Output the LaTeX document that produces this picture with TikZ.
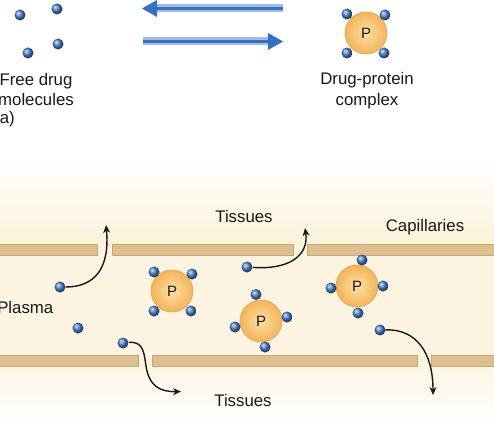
\documentclass[tikz,border=0pt]{standalone}
\usepackage{fontspec}
\setmainfont{Liberation Sans}
\usetikzlibrary{arrows.meta,shadings}
\definecolor{cream}{RGB}{253,244,226}
\definecolor{creamtop}{RGB}{250,242,216}
\definecolor{memfill}{RGB}{222,191,142}
\definecolor{memedge}{RGB}{200,167,118}
\definecolor{drugblue}{RGB}{70,130,215}
\definecolor{protin}{RGB}{253,224,165}
\definecolor{protout}{RGB}{244,180,88}
\definecolor{protedge}{RGB}{230,164,72}
\definecolor{arrlight}{RGB}{160,190,228}
\definecolor{arrdark}{RGB}{52,112,195}
\definecolor{ink}{RGB}{25,25,25}
\tikzset{
  drug/.style={circle, minimum size=11pt, inner sep=0pt, shading=ball, ball color=drugblue},
  protein/.style={circle, minimum size=42pt, inner sep=0pt, draw=protedge, line width=0.6pt,
    inner color=protin, outer color=protout, text=ink, font=\fontsize{15}{15}\selectfont},
  membrane/.style={fill=memfill, draw=memedge, line width=0.6pt},
  lbl/.style={inner sep=0pt, text=ink, font=\fontsize{16.8}{20}\selectfont},
  flow/.style={draw=ink, line width=1.4pt, -{Stealth[length=8pt,width=7pt]}},
  shaftout/.style={draw=arrlight, line width=8pt},
  shaftin/.style={draw=arrdark, line width=3.5pt},
  headfill/.style={fill=arrdark}
}
\begin{document}
\begin{tikzpicture}[x=1pt,y=-1pt]
\useasboundingbox (0,0) rectangle (494,422);
\fill[white] (0,0) rectangle (494,422);
% backgrounds
\shade[top color=white,bottom color=creamtop] (0,160) rectangle (494,246);
\fill[cream] (0,246) rectangle (494,360);
\shade[top color=cream,bottom color=white] (0,360) rectangle (494,422);
% membranes
\draw[membrane] (-2,244.5) rectangle (97,255.5);
\draw[membrane] (112,244.5) rectangle (293,255.5);
\draw[membrane] (307.5,244.5) rectangle (496,255.5);
\draw[membrane] (-2,355) rectangle (138,366);
\draw[membrane] (152.5,355) rectangle (417,366);
\draw[membrane] (431,355) rectangle (496,366);

% ---------- part (a) ----------
\node[drug] (f1) at (20,15) {};
\node[drug] (f2) at (57,9) {};
\node[drug] (f3) at (58,44) {};
\node[drug] (f4) at (28,53) {};

% equilibrium arrows
\coordinate (la) at (283,8.5);
\coordinate (lb) at (157,8.5);
\coordinate (lt) at (142,8.5);
\draw[shaftout] (la) -- (lb);
\draw[shaftin] (la) -- (lb);
\fill[headfill] (lt) -- ([yshift=-8.5]lb) -- ([yshift=8.5]lb) -- cycle;
\coordinate (ra) at (143,41.5);
\coordinate (rb) at (268,41.5);
\coordinate (rt) at (283,41.5);
\draw[shaftout] (ra) -- (rb);
\draw[shaftin] (ra) -- (rb);
\fill[headfill] (rt) -- ([yshift=-8.5]rb) -- ([yshift=8.5]rb) -- cycle;

% complex (a)
\node[protein] (pa) at (366,33) {P};
\node[drug] (pa1) at (347,14) {};
\node[drug] (pa2) at (385,15) {};
\node[drug] (pa3) at (347,53) {};
\node[drug] (pa4) at (384,53) {};

\node[lbl, anchor=base] (tfree1) at (36,85.7) {Free drug};
\node[lbl, anchor=base] (tfree2) at (36,106) {molecules};
\node[lbl, anchor=base east] (ta) at (15,123.5) {(a)};
\node[lbl, anchor=base] (tdp1) at (367,85) {Drug-protein};
\node[lbl, anchor=base] (tdp2) at (367,106) {complex};

% ---------- part (b) ----------
\node[lbl, anchor=base] (ttop) at (244,222.7) {Tissues};
\node[lbl, anchor=base] (tcap) at (425,231.5) {Capillaries};
\node[lbl, anchor=base east] (tpl) at (53.5,313.3) {Plasma};
\node[lbl, anchor=base] (tbot) at (243,406.7) {Tissues};

% flow arrows
\coordinate (t1) at (106,225);
\coordinate (t2) at (305,228);
\coordinate (t3) at (181,391.5);
\coordinate (t4) at (433,395);
\node[drug] (d1) at (60,287) {};
\node[drug] (d2) at (247,267) {};
\node[drug] (d3) at (123,343) {};
\node[drug] (d4) at (380,330) {};
\node[drug] (d5) at (78,328) {};
\draw[flow] (d1) .. controls (95,287) and (110,268) .. (t1);
\draw[flow] (d2) .. controls (290,270) and (309,255) .. (t2);
\draw[flow] (d3) .. controls (143,341) and (144,352) .. (146,366) .. controls (149,386) and (160,392) .. (t3);
\draw[flow] (d4) .. controls (416,329) and (433,352) .. (t4);

% complexes in plasma
\node[protein] (pb) at (172,291) {P};
\node[drug] (pb1) at (154,272) {};
\node[drug] (pb2) at (192,274) {};
\node[drug] (pb3) at (154,311) {};
\node[drug] (pb4) at (191,311) {};

\node[protein] (pc) at (261,321) {P};
\node[drug] (pc1) at (256,294.5) {};
\node[drug] (pc2) at (287,317) {};
\node[drug] (pc3) at (235,327) {};
\node[drug] (pc4) at (265,347) {};

\node[protein] (pd) at (357,286) {P};
\node[drug] (pd1) at (362,260) {};
\node[drug] (pd2) at (331,288) {};
\node[drug] (pd3) at (383,286) {};
\node[drug] (pd4) at (358,313) {};
\end{tikzpicture}
\end{document}
